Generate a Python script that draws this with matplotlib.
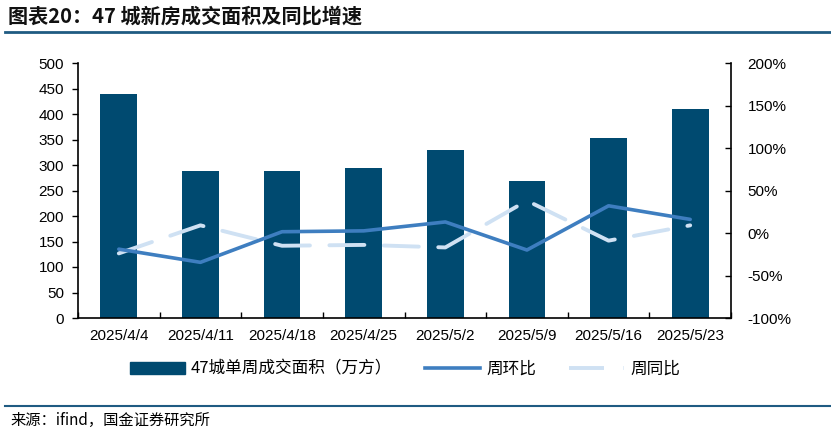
import matplotlib
matplotlib.use("Agg")
import matplotlib.pyplot as plt
import numpy as np
from matplotlib.lines import Line2D
from matplotlib.patches import Patch

plt.rcParams['font.family'] = ['Liberation Sans', 'Noto Sans CJK SC', 'DejaVu Sans']

categories = ["2025/4/4", "2025/4/11", "2025/4/18", "2025/4/25",
              "2025/5/2", "2025/5/9", "2025/5/16", "2025/5/23"]
area = [439, 288, 288, 294, 329, 269, 353, 410]
wow = [-19, -34.5, 1.5, 2.5, 13, -20, 32, 16]
yoy = [-24, 9, -15, -14, -17, 38, -9, 9]

left_ticks = [0, 50, 100, 150, 200, 250, 300, 350, 400, 450, 500]
right_ticks = [-100, -50, 0, 50, 100, 150, 200]

bar_color = "#004a70"
wow_color = "#3e7ec0"
yoy_color = "#cfe1f3"

fig = plt.figure(figsize=(8.31, 4.34), dpi=100)
W, H = 831, 434
ax = fig.add_axes([78 / W, 1 - 318 / H, (731 - 78) / W, (318 - 63) / H])
ax2 = ax.twinx()

x = np.arange(len(categories))
ax.bar(x, area, width=0.45, color=bar_color, zorder=2)
ax.set_ylim(0, 500)
ax.set_yticks(left_ticks)
ax.set_xlim(-0.5, len(categories) - 0.5)
ax.set_xticks(x)
ax.set_xticklabels(categories, fontsize=11)
ax.set_xticks(np.arange(len(categories) + 1) - 0.5, minor=True)
ax.tick_params(axis='x', which='major', length=0, pad=8)
ax.tick_params(axis='x', which='minor', length=4, direction='in', width=1)
ax.tick_params(axis='y', labelsize=11, length=4, direction='out', width=1, pad=6)
for s in ['top', 'right']:
    ax.spines[s].set_visible(False)
ax.spines['left'].set_linewidth(1.2)
ax.spines['bottom'].set_linewidth(1.2)

ax2.plot(x, wow, color=wow_color, lw=2.6, zorder=4, solid_capstyle='round')
ax2.plot(x, yoy, color=yoy_color, lw=2.8, linestyle=(0, (9, 5)),
         dash_capstyle='round', zorder=3)
ax2.set_ylim(-100, 200)
ax2.set_yticks(right_ticks)
ax2.set_yticklabels([f"{t}%" for t in right_ticks])
ax2.tick_params(axis='y', labelsize=11, length=4, direction='in', width=1, pad=12)
for s in ['top', 'left', 'bottom']:
    ax2.spines[s].set_visible(False)
ax2.spines['right'].set_linewidth(1.2)
ax.set_zorder(1)
ax2.set_zorder(2)
ax.patch.set_visible(False)

handles = [Patch(color=bar_color),
           Line2D([0], [0], color=wow_color, lw=2.6),
           Line2D([0], [0], color=yoy_color, lw=2.8, linestyle=(0, (9, 5)))]
labels = ["47城单周成交面积（万方）", "周环比", "周同比"]
fig.legend(handles, labels, loc='center', bbox_to_anchor=(405 / W, 1 - 369 / H),
           ncol=3, frameon=False, handlelength=3.3, handletextpad=0.35,
           columnspacing=2.0,
           prop={'family': ['Noto Sans CJK SC', 'DejaVu Sans'], 'size': 12})

fig.text(8 / W, 1 - 16 / H, "图表20：47 城新房成交面积及同比增速", fontsize=14.5,
         fontweight='bold', family=['Noto Sans CJK SC', 'DejaVu Sans'],
         va='center', ha='left', color='#111111')
fig.add_artist(Line2D([5 / W, 1], [1 - 32 / H, 1 - 32 / H], color='#1f5b82', lw=2))
fig.add_artist(Line2D([5 / W, 1], [1 - 406 / H, 1 - 406 / H], color='#1f5b82', lw=1.5))
fig.text(10 / W, 1 - 420 / H, "来源：ifind，国金证券研究所", fontsize=11,
         family=['Noto Sans CJK SC', 'DejaVu Sans'], va='center', ha='left')

fig.savefig("out.png", dpi=100)
